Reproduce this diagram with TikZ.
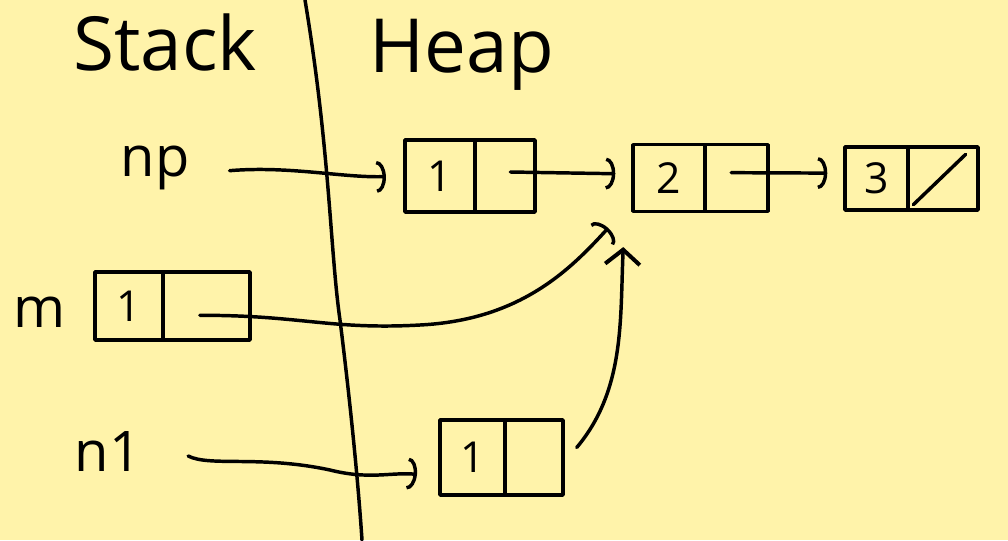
\documentclass[tikz,border=0pt]{standalone}
\usepackage{fontspec}
\setmainfont{Open Sans}
\usetikzlibrary{arrows.meta}
\definecolor{paper}{RGB}{255,243,170}
\tikzset{
  ink/.style={line width=2.6pt, draw=black, line cap=round, line join=round},
  cell/.style={ink, rectangle, inner sep=0pt, font=\fontsize{32}{34}\selectfont},
  big/.style={font=\fontsize{56}{60}\selectfont, inner sep=0pt},
  lbl/.style={font=\fontsize{42}{46}\selectfont, inner sep=0pt},
  arr/.style={ink, -{Arc Barb[length=7pt,width=24pt,line width=2.6pt]}},
  barr/.style={ink, -{Straight Barb[length=11pt,width=26pt,line width=3pt]}}
}
\begin{document}
\begin{tikzpicture}[x=0.75pt,y=-0.75pt]
\fill[paper] (0,0) rectangle (1008,540);
\useasboundingbox (0,0) rectangle (1008,540);

% titles
\node[big] (stack) at (165,42) {Stack};
\node[big] (heap) at (462,55) {Heap};

% divider
\draw[ink] (305,0) .. controls (330,150) and (330,250) .. (340,320) .. controls (350,400) and (358,480) .. (362,540);

% labels
\node[lbl] (np) at (155,168) {np};
\node[lbl] (m) at (40,312) {m};
\node[lbl] (n1) at (108,452) {n1};

% heap boxes
\node[cell, minimum width=52.5pt, minimum height=54pt] (b1l) at (440,176) {1};
\node[cell, minimum width=45pt, minimum height=54pt] (b1r) at (505,176) {};
\node[cell, minimum width=54pt, minimum height=50pt] (b2l) at (669,178) {2};
\node[cell, minimum width=47.25pt, minimum height=50pt] (b2r) at (736.5,178) {};
\node[cell, minimum width=47.25pt, minimum height=47.25pt] (b3l) at (876.5,178.5) {3};
\node[cell, minimum width=52.5pt, minimum height=47.25pt] (b3r) at (943,178.5) {};
\draw[ink] ([shift={(7,-7)}]b3r.south west) -- ([shift={(-14,9)}]b3r.north east);

% stack box m
\node[cell, minimum width=51pt, minimum height=51pt] (ml) at (129,306) {1};
\node[cell, minimum width=65.25pt, minimum height=51pt] (mr) at (206.5,306) {};

% heap box n1
\node[cell, minimum width=48.75pt, minimum height=56.25pt] (nl) at (472.5,457.5) {1};
\node[cell, minimum width=43.5pt, minimum height=56.25pt] (nr) at (534,457.5) {};

% connectors
\draw[arr, shorten >=13pt] ([xshift=30pt,yshift=-2pt]np.east) .. controls +(60,-5) and +(-60,2) .. (b1l.west);
\draw[arr, shorten >=12pt] ([xshift=4pt,yshift=3pt]b1r.center) -- ([yshift=3pt]b2l.west);
\draw[arr, shorten >=12pt] ([xshift=-4pt,yshift=4pt]b2r.center) -- ([yshift=4pt]b3l.west);
\draw[arr, shorten >=9pt] ([xshift=-5pt,yshift=-7pt]mr.center) .. controls (300,315) and (330,330) .. (420,325) .. controls (520,320) and (570,270) .. ([shift={(-15,6)}]b2l.south west);
\draw[arr, shorten >=16pt] ([xshift=35pt,yshift=-3pt]n1.east) .. controls (210,467) and (260,455) .. (330,470) .. controls (370,480) and (390,472) .. ([yshift=-14pt]nl.west);
\draw[barr] ([shift={(12,-10)}]nr.east) .. controls (625,390) and (620,320) .. ([shift={(-8,34)}]b2l.south west);
\end{tikzpicture}
\end{document}
